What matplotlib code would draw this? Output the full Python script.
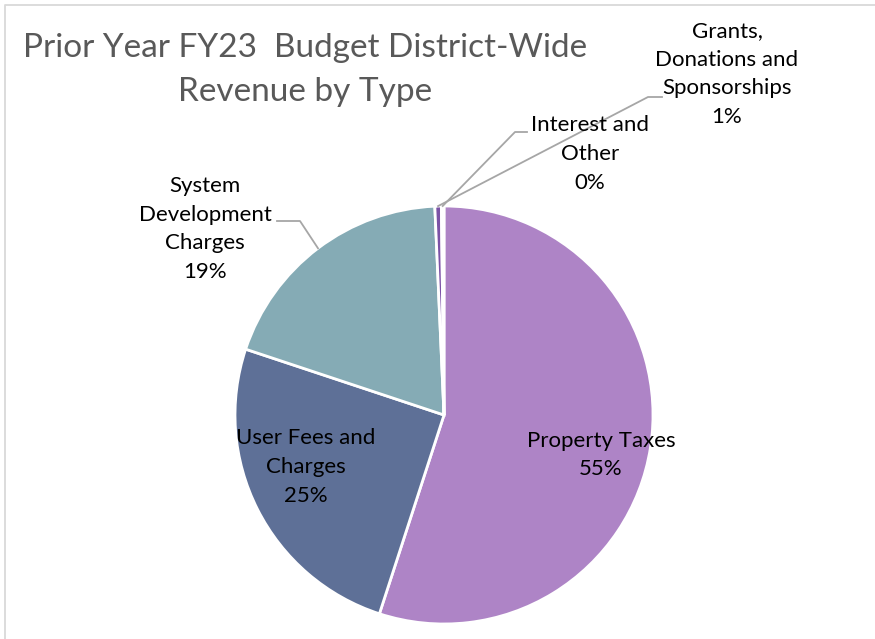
import matplotlib
matplotlib.use("Agg")
import matplotlib.pyplot as plt
import numpy as np

categories = ["Property Taxes", "User Fees and Charges", "System Development Charges",
              "Grants, Donations and Sponsorships", "Interest and Other"]
values = [55.0, 25.1, 19.2, 0.5, 0.2]
pct_labels = ["55%", "25%", "19%", "1%", "0%"]
label_text = ["Property Taxes", "User Fees and\nCharges", "System\nDevelopment\nCharges",
              "Grants,\nDonations and\nSponsorships", "Interest and\nOther"]
colors = ["#AE84C6", "#5E7097", "#85ABB5", "#7B52A6", "#C9B3DB"]

W, H = 875, 639
plt.rcParams['font.family'] = ['Lato', 'DejaVu Sans']
fig = plt.figure(figsize=(W / 100, H / 100), dpi=100)
ax = fig.add_axes([0, 0, 1, 1])

def Y(y):
    return H - y

cx, cy, R = 444, 415, 209
wedges, _ = ax.pie(values, colors=colors, startangle=90, counterclock=False,
                   center=(cx, Y(cy)), radius=R,
                   wedgeprops=dict(edgecolor="white", linewidth=2.0))
ax.set_xlim(0, W)
ax.set_ylim(0, H)
ax.set_aspect("auto")
ax.axis("off")

# chart border
ax.plot([4.5, 4.5, W + 5], [Y(H + 5), Y(5), Y(5)], color="#D9D9D9", lw=1.3, clip_on=False)

fs = 16
tcol = "#000000"
pos = {0: (601, 455), 1: (306, 467), 2: (205, 229), 3: (727, 74), 4: (590, 154)}
for i, (x, y) in pos.items():
    ax.text(x, Y(y), label_text[i] + "\n" + pct_labels[i], ha="center", va="center",
            fontsize=fs, color=tcol, linespacing=1.55)

def edge_point(w, frac=1.0):
    ang = np.deg2rad((w.theta1 + w.theta2) / 2)
    return cx + frac * R * np.cos(ang), Y(cy) + frac * R * np.sin(ang)

lc = "#A6A6A6"
ex, ey = edge_point(wedges[2])
ax.plot([277, 300, ex], [Y(221), Y(221), ey], color=lc, lw=1.3)
ex, ey = edge_point(wedges[3])
ax.plot([662, 648, ex], [Y(97), Y(97), ey], color=lc, lw=1.3)
ex, ey = edge_point(wedges[4])
ax.plot([527, 515, ex], [Y(132), Y(132), ey], color=lc, lw=1.3)

ax.text(305, Y(48), "Prior Year FY23  Budget District-Wide", ha="center", va="center",
        fontsize=24, color="#595959")
ax.text(305, Y(92), "Revenue by Type", ha="center", va="center",
        fontsize=24, color="#595959")

fig.savefig("out.png", dpi=100)
